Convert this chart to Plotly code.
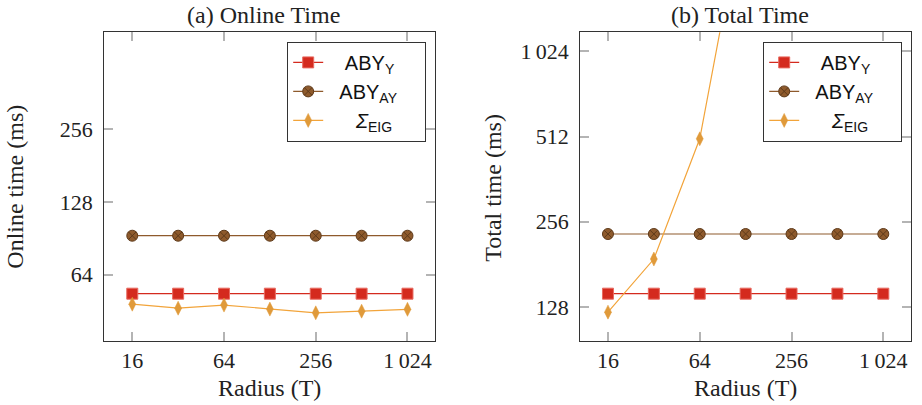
import plotly.graph_objects as go

radius = [16, 32, 64, 128, 256, 512, 1024]
online_aby_y = [53.4, 53.4, 53.4, 53.4, 53.4, 53.4, 53.4]
online_aby_ay = [92.8, 92.8, 92.8, 92.8, 92.8, 92.8, 92.8]
online_eig = [48.3, 46.5, 47.9, 46.1, 44.5, 45.2, 46.0]

total_radius_eig = [16, 32, 64, 128]
total_aby_y = [142.6, 142.6, 142.6, 142.6, 142.6, 142.6, 142.6]
total_aby_ay = [231.7, 231.7, 231.7, 231.7, 231.7, 231.7, 231.7]
total_eig = [122.7, 189.0, 502.6, 3650.0]

x_ticks = [16, 64, 256, 1024]
x_ticktext = ["16", "64", "256", "1\u2009024"]
y1_ticks = [64, 128, 256]
y1_ticktext = ["64", "128", "256"]
y2_ticks = [128, 256, 512, 1024]
y2_ticktext = ["128", "256", "512", "1\u2009024"]

NB = "\u00a0"
names = [NB * 3 + "ABY<sub>Y</sub>",
         NB * 2 + "ABY<sub>AY</sub>" + NB * 4,
         NB * 5 + "<i>Σ</i><sub>EIG</sub>"]

RED = "#d42a1e"
BROWN = "#8e5a2c"
ORANGE = "#e09a3a"
ORANGE_LINE = "#f2a43a"

W, H = 922, 405
SERIF = "Liberation Serif"
SANS = "Liberation Sans"

fig = go.Figure()

def add_series(xa, ya, legend, xs_list):
    (x1, y1), (x2, y2), (x3, y3) = xs_list
    fig.add_trace(go.Scatter(x=x1, y=y1, name=names[0], xaxis=xa, yaxis=ya, legend=legend,
                             mode="lines+markers", line=dict(color=RED, width=1.2),
                             marker=dict(symbol="square", size=11, color=RED,
                                         line=dict(color="#e86a60", width=1))))
    fig.add_trace(go.Scatter(x=x2, y=y2, name=names[1], xaxis=xa, yaxis=ya, legend=legend,
                             mode="lines+markers", line=dict(color=BROWN, width=1.2),
                             marker=dict(symbol="circle-x", size=11, color=BROWN,
                                         line=dict(color="#5e3a1a", width=1))))
    fig.add_trace(go.Scatter(x=x3, y=y3, name=names[2], xaxis=xa, yaxis=ya, legend=legend,
                             mode="lines+markers", line=dict(color=ORANGE_LINE, width=1.2),
                             marker=dict(symbol="diamond-tall", size=10, color=ORANGE,
                                         line=dict(color=ORANGE, width=0.5))))

add_series("x", "y", "legend",
           [(radius, online_aby_y), (radius, online_aby_ay), (radius, online_eig)])
add_series("x2", "y2", "legend2",
           [(radius, total_aby_y), (radius, total_aby_ay), (total_radius_eig, total_eig)])

def px_x(p):
    return p / W

def px_y(p):
    return 1 - p / H

axis_common = dict(type="log", showgrid=False, zeroline=False, ticks="inside", ticklen=9,
                   tickwidth=1.5, tickcolor="#b4b4b4", showline=True, linecolor="#333333",
                   linewidth=1.2, mirror="ticks",
                   tickfont=dict(family=SERIF, size=22, color="#222222"))

legend_common = dict(xanchor="left", yanchor="top", bordercolor="#333333", borderwidth=1.2,
                     bgcolor="white", font=dict(family=SANS, size=20, color="#111111"),
                     tracegroupgap=0, itemwidth=30)

fig.update_layout(
    width=W, height=H, margin=dict(l=0, r=0, t=0, b=0),
    paper_bgcolor="white", plot_bgcolor="white",
    xaxis=dict(axis_common, domain=[px_x(104.3), px_x(435)], range=[1.0205, 3.191],
               tickvals=x_ticks, ticktext=x_ticktext, anchor="y"),
    yaxis=dict(axis_common, domain=[px_y(340.7), px_y(32.3)],
               range=[5.092 * 0.30103, 9.334 * 0.30103],
               tickvals=y1_ticks, ticktext=y1_ticktext, anchor="x", ticklabelstandoff=6),
    xaxis2=dict(axis_common, domain=[px_x(580.3), px_x(910.7)],
                range=[3.397 * 0.30103, 10.597 * 0.30103],
                tickvals=x_ticks, ticktext=x_ticktext, anchor="y2"),
    yaxis2=dict(axis_common, domain=[px_y(340.7), px_y(32.3)],
                range=[6.604 * 0.30103, 10.223 * 0.30103],
                tickvals=y2_ticks, ticktext=y2_ticktext, anchor="x2", ticklabelstandoff=6),
    legend=dict(legend_common, x=px_x(287), y=px_y(41.7)),
    legend2=dict(legend_common, x=px_x(763), y=px_y(41.7)),
    showlegend=True,
)

ann_font = dict(family=SERIF, size=24, color="#222222")
annotations = [
    dict(text="(a) Online Time", x=px_x(263.7), y=px_y(15), xref="paper", yref="paper",
         showarrow=False, font=ann_font, xanchor="center", yanchor="middle"),
    dict(text="(b) Total Time", x=px_x(461 + 279), y=px_y(15), xref="paper", yref="paper",
         showarrow=False, font=ann_font, xanchor="center", yanchor="middle"),
    dict(text="Radius (T)", x=px_x(269), y=px_y(388), xref="paper", yref="paper",
         showarrow=False, font=ann_font, xanchor="center", yanchor="middle"),
    dict(text="Radius (T)", x=px_x(461 + 284), y=px_y(388), xref="paper", yref="paper",
         showarrow=False, font=ann_font, xanchor="center", yanchor="middle"),
    dict(text="Online time (ms)", x=px_x(15), y=px_y(186.7), xref="paper", yref="paper",
         showarrow=False, font=ann_font, xanchor="center", yanchor="middle", textangle=-90),
    dict(text="Total time (ms)", x=px_x(492.7), y=px_y(188), xref="paper", yref="paper",
         showarrow=False, font=ann_font, xanchor="center", yanchor="middle", textangle=-90),
]
fig.update_layout(annotations=annotations)

fig.write_html("out.html", config={"displayModeBar": False},
               post_script="document.body.style.margin='0';document.body.style.overflow='hidden';")
